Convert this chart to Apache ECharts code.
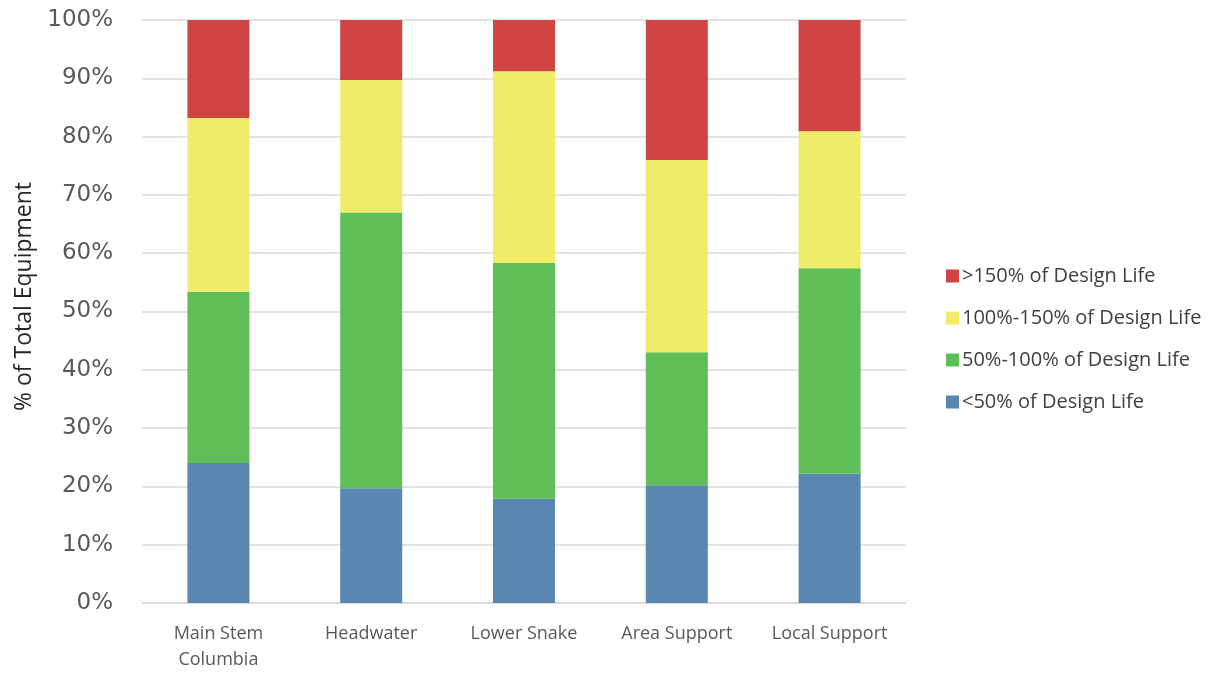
<!DOCTYPE html>
<html>
<head>
<meta charset="utf-8">
<script src="https://cdn.jsdelivr.net/npm/echarts@6/dist/echarts.min.js"></script>
<style>
  html, body { margin: 0; padding: 0; background: #ffffff; overflow: hidden; }
  #chart { width: 100vw; height: 100vh; }
</style>
</head>
<body>
<div id="chart"></div>
<script>
// Share of equipment by age relative to design life, per project group (%)
const categories = ['Main Stem\nColumbia', 'Headwater', 'Lower Snake', 'Area Support', 'Local Support'];
const under50 = [24.0, 19.7, 17.9, 20.2, 22.2];
const from50to100 = [29.4, 47.3, 40.4, 22.8, 35.2];
const from100to150 = [29.8, 22.7, 32.9, 33.0, 23.5];
const over150 = [16.8, 10.3, 8.8, 24.0, 19.1];
const seriesNames = ['<50% of Design Life', '50%-100% of Design Life', '100%-150% of Design Life', '>150% of Design Life'];
const seriesColors = ['#5A87AF', '#5FBE56', '#F0EC6A', '#D04444'];
const yTicks = [0, 10, 20, 30, 40, 50, 60, 70, 80, 90, 100];

const values = [under50, from50to100, from100to150, over150];

const chart = echarts.init(document.getElementById('chart'), null, { renderer: 'canvas' });

chart.setOption({
  animation: false,
  backgroundColor: '#ffffff',
  grid: { left: 142, right: 319, top: 20, bottom: 69, containLabel: false },
  legend: {
    orient: 'vertical',
    left: 941,
    top: 261,
    itemWidth: 13,
    itemHeight: 13,
    itemGap: 22,
    icon: 'rect',
    data: seriesNames.slice().reverse(),
    textStyle: { fontFamily: 'Open Sans', fontSize: 20, color: '#404040', lineHeight: 20, padding: [0, 0, 0, -2] }
  },
  xAxis: {
    type: 'category',
    data: categories,
    axisLine: { show: true, lineStyle: { color: '#D9D9D9', width: 1.5 } },
    axisTick: { show: false },
    axisLabel: { fontFamily: 'Open Sans', fontSize: 18, color: '#595959', margin: 18, lineHeight: 26, interval: 0 }
  },
  yAxis: {
    type: 'value',
    min: 0,
    max: 100,
    interval: 10,
    name: '% of Total Equipment',
    nameLocation: 'middle',
    nameGap: 106,
    nameRotate: 90,
    nameTextStyle: { fontFamily: 'Open Sans', fontSize: 23, color: '#262626', padding: [0, 0, 0, 30] },
    axisLine: { show: false },
    axisTick: { show: false },
    splitLine: { lineStyle: { color: '#D9D9D9', width: 1.5 } },
    axisLabel: {
      fontFamily: 'DejaVu Sans',
      fontSize: 23,
      color: '#595959',
      margin: 29,
      formatter: function (v) { return yTicks.indexOf(v) >= 0 ? v + '%' : ''; }
    }
  },
  series: seriesNames.map(function (name, i) {
    return {
      name: name,
      type: 'bar',
      stack: 'total',
      barWidth: 62,
      data: values[i],
      itemStyle: { color: seriesColors[i] }
    };
  })
});
</script>
</body>
</html>
